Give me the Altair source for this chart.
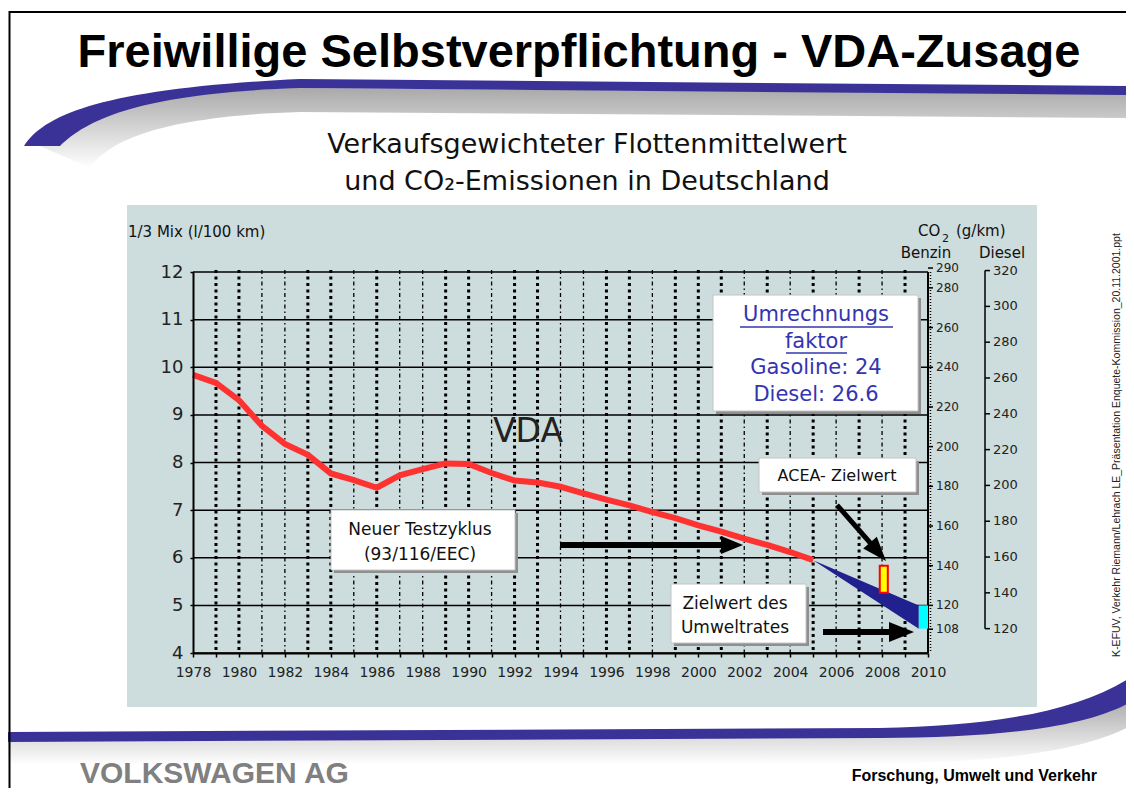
import altair as alt
import pandas as pd

# ---------------- data ----------------
years = list(range(1978, 2006))
fleet_l100km = [9.84, 9.67, 9.31, 8.77, 8.39, 8.16, 7.77, 7.63, 7.47, 7.73,
                7.86, 7.98, 7.97, 7.78, 7.62, 7.58, 7.49, 7.35, 7.22, 7.10,
                6.96, 6.83, 6.68, 6.55, 6.40, 6.27, 6.12, 5.95]
conv_benzin = 24.0
conv_diesel = 26.6
wedge_years = [2005, 2009.6]
umweltrat_target_gkm = 120
umweltrat_years = [2009.6, 2010]
acea_target_gkm = 140
acea_years = [2007.9, 2008.25]

l_ticks = [4, 5, 6, 7, 8, 9, 10, 11, 12]
year_ticks = list(range(1978, 2011))
heavy_grid_years = [1979, 1980, 1983, 1984, 1986, 1989, 1990, 1992, 1993, 1996,
                    1997, 1999, 2000, 2001, 2003, 2005, 2007, 2009]
light_grid_years = [1981, 1982, 1985, 1987, 1988, 1991, 1994, 1995, 1998, 2002,
                    2004, 2006, 2008]
benzin_ticks = [290, 280, 260, 240, 220, 200, 180, 160, 140, 120, 108]
diesel_ticks = [320, 300, 280, 260, 240, 220, 200, 180, 160, 140, 120]

# ---------------- layout ----------------
W, H = 735, 381
OX, OY = 193, 272          # page position of plot origin


def px(X):
    return X - OX


def py(Y):
    return Y - OY


one = pd.DataFrame({"k": [0]})
xs = alt.Scale(domain=[1978, 2010], nice=False, zero=False)
ys = alt.Scale(domain=[4, 12], nice=False, zero=False)

X_AXIS = alt.Axis(values=year_ticks, format="d", title=None, grid=False,
                  labelExpr="datum.value % 2 === 0 ? datum.label : ''",
                  labelFont="DejaVu Sans", labelFontSize=14, labelColor="#222",
                  labelPadding=8, labelFlush=False, labelOverlap=False,
                  tickSize=4, tickColor="black", tickWidth=1.5,
                  domainColor="black", domainWidth=2, zindex=1)
Y_AXIS = alt.Axis(values=l_ticks, title=None, grid=False,
                  labelFont="DejaVu Sans", labelFontSize=18, labelColor="#222",
                  labelPadding=7, labelFlush=False, labelOverlap=False,
                  tickSize=3, tickColor="black", tickWidth=1.5,
                  domainColor="black", domainWidth=2, zindex=1)


def X(f):
    return alt.X(f, type="quantitative", scale=xs, axis=X_AXIS)


def Y(f):
    return alt.Y(f, type="quantitative", scale=ys, axis=Y_AXIS)


def text(t, Xp, Yp, size, font="DejaVu Sans", color="#111", weight="normal",
         align="center", baseline="middle", angle=0):
    return alt.Chart(one).mark_text(
        text=t, font=font, fontSize=size, color=color, fontWeight=weight,
        align=align, baseline=baseline, angle=angle
    ).encode(x=alt.value(px(Xp)), y=alt.value(py(Yp)))


def rect(X1, Y1, X2, Y2, **kw):
    return alt.Chart(one).mark_rect(**kw).encode(
        x=alt.value(px(X1)), x2=alt.value(px(X2)),
        y=alt.value(py(Y1)), y2=alt.value(py(Y2)))


def box(X1, Y1, X2, Y2):
    return [rect(X1 + 3, Y1 + 3, X2 + 3, Y2 + 3, color="#8f8f8f"),
            rect(X1, Y1, X2, Y2, fill="white", stroke="#c4c4c4", strokeWidth=1)]


def shape(path, **kw):
    # custom symbol path in page pixels (size 4 -> scale 1)
    return alt.Chart(one).mark_point(shape=path, size=4, opacity=1, **kw).encode(
        x=alt.value(-OX), y=alt.value(-OY))


def hline(X1, X2, Yp, **kw):
    return alt.Chart(one).mark_rule(**kw).encode(
        x=alt.value(px(X1)), x2=alt.value(px(X2)), y=alt.value(py(Yp)))


layers = []

# ---- slide decoration ----
shadow_grad = alt.LinearGradient(gradient="linear", x1=0, x2=0, y1=0, y2=1,
                                 stops=[alt.GradientStop(color="#a9a9a9", offset=0),
                                        alt.GradientStop(color="#ffffff", offset=1)])
layers.append(shape("M 40,146 C 75,112 150,92 300,88 L 1134,94 L 1134,118 L 300,112 "
                    "C 170,116 110,138 90,168 Z", filled=True, fill=shadow_grad))
layers.append(shape("M 24,146 C 45,113 110,88 300,79 L 1134,86 L 1134,95 L 300,88 "
                    "C 150,93 90,116 60,146 Z", filled=True, fill="#3a3296"))
layers.append(shape("M 5,740 L 880,736 C 1000,736 1090,724 1134,698 L 1134,724 "
                    "C 1090,750 1000,763 880,763 L 5,765 Z", filled=True, fill=shadow_grad))
layers.append(shape("M 5,732 L 880,728 C 990,726 1080,712 1134,675 L 1134,700 "
                    "C 1090,727 1000,738 880,738 L 5,742 Z", filled=True, fill="#3a3296"))
layers.append(shape("M 9.5,796 L 9.5,12 L 1134,12", filled=False, color="black",
                    strokeWidth=2))

# ---- chart panel ----
layers.append(rect(127, 205, 1037, 707, color="#cddcdc"))

# ---- grid ----
layers.append(alt.Chart(pd.DataFrame({"v": l_ticks})).mark_rule(
    color="black", strokeWidth=1.5).encode(y=Y("v"), x=alt.value(0), x2=alt.value(W)))
layers.append(alt.Chart(pd.DataFrame({"yr": heavy_grid_years})).mark_rule(
    color="black", strokeWidth=3, strokeDash=[3, 3.5]).encode(
    x=X("yr"), y=alt.value(-2), y2=alt.value(H)))
layers.append(alt.Chart(pd.DataFrame({"yr": light_grid_years})).mark_rule(
    color="black", strokeWidth=1.3, strokeDash=[4, 3, 1.5, 3]).encode(
    x=X("yr"), y=alt.value(-2), y2=alt.value(H)))

# ---- right axes ----
layers.append(alt.Chart(one).mark_rule(color="black", strokeWidth=2).encode(
    x=alt.value(W), y=alt.value(0), y2=alt.value(H)))
layers.append(alt.Chart(one).mark_rule(color="black", strokeWidth=1.5, strokeDash=[1, 2]).encode(
    x=alt.value(W + 2.5), y=alt.value(0), y2=alt.value(H)))
bz = alt.Chart(pd.DataFrame({"v": benzin_ticks})).transform_calculate(
    l=f"datum.v / {conv_benzin}")
layers.append(bz.mark_rule(color="black", strokeWidth=1.5).encode(
    y=Y("l"), x=alt.value(W), x2=alt.value(W + 5)))
layers.append(bz.mark_text(align="left", baseline="middle", font="DejaVu Sans",
                           fontSize=12, color="#222").encode(
    y=Y("l"), x=alt.value(W + 8), text=alt.Text("v:Q")))

DX = 792
dz = alt.Chart(pd.DataFrame({"v": diesel_ticks})).transform_calculate(
    l=f"datum.v / {conv_diesel}")
dl = alt.Chart(pd.DataFrame({"hi": [max(diesel_ticks)], "lo": [min(diesel_ticks)]})
               ).transform_calculate(top=f"datum.hi / {conv_diesel}",
                                     bot=f"datum.lo / {conv_diesel}")
layers.append(dl.mark_rule(color="black", strokeWidth=1.5).encode(
    x=alt.value(DX), y=Y("top"), y2=alt.Y2("bot")))
layers.append(dz.mark_rule(color="black", strokeWidth=1.5).encode(
    y=Y("l"), x=alt.value(DX), x2=alt.value(DX + 5)))
layers.append(dz.mark_text(align="left", baseline="middle", font="DejaVu Sans",
                           fontSize=13, color="#222").encode(
    y=Y("l"), x=alt.value(DX + 8), text=alt.Text("v:Q")))

# ---- data marks ----
wedge = pd.DataFrame({
    "yr": wedge_years,
    "top": [fleet_l100km[-1], umweltrat_target_gkm / conv_benzin],
    "bot": [fleet_l100km[-1], umweltrat_target_gkm / conv_diesel],
})
layers.append(alt.Chart(wedge).mark_area(color="#20208e", opacity=1).encode(
    x=X("yr"), y=Y("top"), y2=alt.Y2("bot")))
layers.append(alt.Chart(pd.DataFrame({"yr": years, "l": fleet_l100km})).mark_line(
    color="#ff3232", strokeWidth=6).encode(x=X("yr"), y=Y("l")))
cyan = pd.DataFrame({"x1": [umweltrat_years[0]], "x2": [umweltrat_years[1]],
                     "top": [umweltrat_target_gkm / conv_benzin],
                     "bot": [umweltrat_target_gkm / conv_diesel]})
layers.append(alt.Chart(cyan).mark_rect(color="#00ffff").encode(
    x=X("x1"), x2=alt.X2("x2"), y=Y("top"), y2=alt.Y2("bot")))
acea = pd.DataFrame({"x1": [acea_years[0]], "x2": [acea_years[1]],
                     "top": [acea_target_gkm / conv_benzin],
                     "bot": [acea_target_gkm / conv_diesel]})
layers.append(alt.Chart(acea).mark_rect(fill="#ffff00", stroke="#ff0000", strokeWidth=2).encode(
    x=X("x1"), x2=alt.X2("x2"), y=Y("top"), y2=alt.Y2("bot")))

# ---- arrows ----
layers.append(shape("M 560,542 L 721,542 L 721,536 L 743,545 L 721,554 L 721,548 L 560,548 Z",
                    filled=True, fill="black"))
layers.append(shape("M 823,629 L 889,629 L 889,622 L 914,632 L 889,642 L 889,635 L 823,635 Z",
                    filled=True, fill="black"))
layers.append(shape("M 838.9,503.4 L 871.9,541.1 L 876.8,536.8 L 886,561 L 863.2,548.6 "
                    "L 868.1,544.3 L 835.1,506.6 Z", filled=True, fill="black"))

# ---- annotation boxes ----
layers += box(713, 295, 918, 411)
layers += box(759, 458, 916, 492)
layers += box(331, 510, 515, 570)
layers += box(671, 584, 806, 643)

BLUE = "#3434b0"
layers.append(text("Umrechnungs", 816, 315, 21, color=BLUE))
layers.append(hline(740, 893, 327, color=BLUE, strokeWidth=1.5))
layers.append(text("faktor", 816, 342, 21, color=BLUE))
layers.append(hline(786, 847, 353, color=BLUE, strokeWidth=1.5))
layers.append(text("Gasoline: 24", 816, 368, 21, color=BLUE))
layers.append(text("Diesel: 26.6", 816, 395, 21, color=BLUE))

layers.append(text("ACEA- Zielwert", 837, 476, 16))
layers.append(text("Neuer Testzyklus", 420, 530, 17))
layers.append(text("(93/116/EEC)", 420, 555, 17))
layers.append(text("Zielwert des", 735, 604, 17))
layers.append(text("Umweltrates", 735, 628, 17))
layers.append(text("VDA", 528, 432, 33, color="#222"))

# ---- axis titles ----
layers.append(text("1/3 Mix (l/100 km)", 128, 232, 15, align="left"))
layers.append(text("CO", 918, 231, 15, align="left"))
layers.append(text("2", 942, 239, 11, align="left"))
layers.append(text("(g/km)", 956, 231, 15, align="left"))
layers.append(text("Benzin", 926, 253, 15))
layers.append(text("Diesel", 1002, 253, 15))

# ---- slide texts ----
layers.append(text("Freiwillige Selbstverpflichtung - VDA-Zusage", 579, 67, 47,
                   font="Liberation Sans", weight="bold", color="black",
                   baseline="alphabetic"))
layers.append(text("Verkaufsgewichteter Flottenmittelwert", 587, 145, 27, color="#111"))
layers.append(text("und CO\u2082-Emissionen in Deutschland", 587, 182, 27, color="#111"))
layers.append(text("VOLKSWAGEN AG", 80, 783, 30, font="Liberation Sans", weight="bold",
                   color="#808080", align="left", baseline="alphabetic"))
layers.append(text("Forschung, Umwelt und Verkehr", 1097, 781, 16, font="Liberation Sans",
                   weight="bold", color="black", align="right", baseline="alphabetic"))
layers.append(text("K-EFUV, Verkehr  Riemann/Lehrach  LE_Pr\u00e4sentation Enquete-Kommission_20.11.2001.ppt",
                   1117, 445, 10.5, font="Liberation Sans", color="#222", angle=270))

chart = alt.layer(*layers).properties(
    width=W, height=H,
    padding={"left": 185, "top": 264, "right": 198, "bottom": 135},
    autosize=alt.AutoSizeParams(type="none"),
).configure_view(stroke="transparent")

chart.save("out.html", embed_options={"renderer": "svg", "actions": False})
